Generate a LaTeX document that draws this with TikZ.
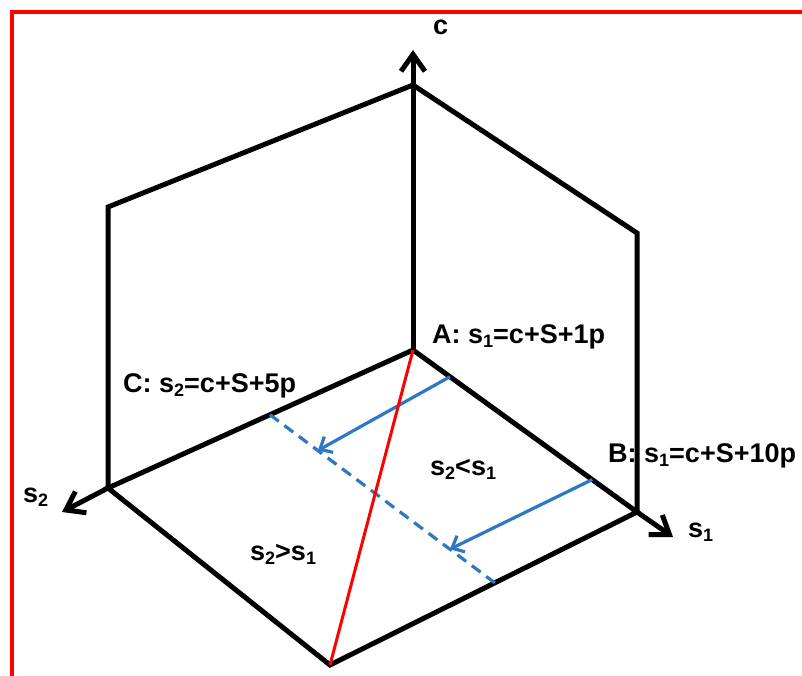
\documentclass[tikz,border=0pt]{standalone}
\usepackage{fontspec}
\setmainfont{Liberation Sans}
\usetikzlibrary{arrows.meta,calc}
\definecolor{mvblue}{HTML}{2E78C2}
\definecolor{frred}{HTML}{FF0000}
\newcommand{\lowidx}[1]{\raisebox{-0.35ex}{\fontsize{18}{18}\selectfont #1}}

\begin{document}
\begin{tikzpicture}[x=1pt,y=-1pt,
  font=\fontsize{27}{32}\selectfont\bfseries,
  edge/.style={line width=5pt},
  axis/.style={line width=5pt,-{Straight Barb[length=17pt,width=24pt]}},
  move/.style={draw=mvblue,line width=3.2pt,-{Straight Barb[length=10pt,width=18pt]}},
  split/.style={draw=mvblue,line width=3.2pt,dash pattern=on 11pt off 7pt},
  lbl/.style={anchor=base west,inner sep=0pt},
]
\useasboundingbox (0,0) rectangle (802,676);
\draw[frred,line width=3.5pt] (12,676) -- (12,12) -- (802,12);

% box corners
\coordinate (O)   at (413,350);
\coordinate (S2)  at (108,488);
\coordinate (S1)  at (637,512);
\coordinate (Bt)  at (330,665);
\coordinate (Top) at (413,85);
\coordinate (TL)  at (108,207);
\coordinate (TR)  at (637,233);
\coordinate (ctip)  at (413,50);
\coordinate (s2tip) at (62,512);
\coordinate (s1tip) at (673,537);

% points for the boundary and shifts
\coordinate (D1) at ($(O)!0.469!(S2)$);
\coordinate (D2) at ($(Bt)!0.537!(S1)$);
\coordinate (M1) at ($(O)!0.165!(S1)$);
\coordinate (M2) at ($(O)!0.80!(S1)$);
\coordinate (N1) at ($(D1)!0.213!(D2)$);
\coordinate (N2) at ($(D1)!0.80!(D2)$);

\draw[edge] (S2) -- (TL) -- (Top) -- (TR) -- (S1);
\draw[edge] (S2) -- (O) -- (S1) -- (Bt) -- cycle;
\draw[axis] (O) -- (ctip);
\draw[axis] (S2) -- (s2tip);
\draw[axis] (S1) -- (s1tip);

\draw[split] (D1) -- (D2);
\draw[move] (M1) -- (N1);
\draw[move] (M2) -- (N2);
\draw[frred,line width=3pt] (O) -- (Bt);

\node[lbl] (lc)  at (433,35)  {c};
\node[lbl] (ls2) at (23,502)  {s\lowidx{2}};
\node[lbl] (ls1) at (688,537) {s\lowidx{1}};
\node[lbl] (lA)  at (432,343) {A: s\lowidx{1}=c+S+1p};
\node[lbl] (lC)  at (123,392) {C: s\lowidx{2}=c+S+5p};
\node[lbl] (lB)  at (608,462) {B: s\lowidx{1}=c+S+10p};
\node[lbl] (lu)  at (430,475) {s\lowidx{2}<s\lowidx{1}};
\node[lbl] (ll)  at (250,560) {s\lowidx{2}>s\lowidx{1}};
\end{tikzpicture}
\end{document}
